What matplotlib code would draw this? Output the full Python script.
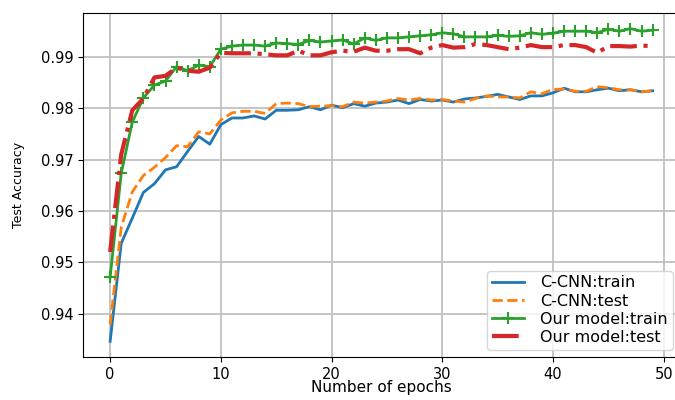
import matplotlib
matplotlib.use("Agg")
import matplotlib.pyplot as plt
import numpy as np

epochs = list(range(50))

ccnn_train = [0.9346, 0.9537, 0.9586, 0.9636, 0.9653, 0.9680, 0.9686, 0.9716, 0.9745, 0.9730,
              0.9768, 0.9781, 0.9781, 0.9785, 0.9779, 0.9796, 0.9796, 0.9797, 0.9803, 0.9797,
              0.9806, 0.9801, 0.9809, 0.9804, 0.9810, 0.9812, 0.9816, 0.9809, 0.9817, 0.9814,
              0.9816, 0.9812, 0.9818, 0.9820, 0.9823, 0.9827, 0.9822, 0.9817, 0.9824, 0.9824,
              0.9830, 0.9839, 0.9832, 0.9832, 0.9836, 0.9839, 0.9834, 0.9836, 0.9832, 0.9834]

ccnn_test = [0.9379, 0.9568, 0.9637, 0.9669, 0.9685, 0.9704, 0.9727, 0.9725, 0.9754, 0.9750,
             0.9777, 0.9791, 0.9794, 0.9794, 0.9790, 0.9809, 0.9810, 0.9809, 0.9803, 0.9804,
             0.9805, 0.9803, 0.9812, 0.9810, 0.9812, 0.9814, 0.9819, 0.9816, 0.9819, 0.9816,
             0.9817, 0.9814, 0.9812, 0.9819, 0.9824, 0.9822, 0.9822, 0.9820, 0.9832, 0.9828,
             0.9837, 0.9837, 0.9833, 0.9833, 0.9842, 0.9840, 0.9836, 0.9836, 0.9832, 0.9834]

our_train = [0.9471, 0.9673, 0.9773, 0.9820, 0.9845, 0.9853, 0.9881, 0.9873, 0.9884, 0.9881,
             0.9915, 0.9921, 0.9923, 0.9923, 0.9921, 0.9927, 0.9926, 0.9924, 0.9932, 0.9929,
             0.9931, 0.9933, 0.9925, 0.9937, 0.9932, 0.9937, 0.9937, 0.9939, 0.9941, 0.9943,
             0.9947, 0.9945, 0.9939, 0.9939, 0.9939, 0.9942, 0.9940, 0.9941, 0.9947, 0.9944,
             0.9946, 0.9950, 0.9950, 0.9950, 0.9947, 0.9954, 0.9950, 0.9955, 0.9950, 0.9952]

our_test = [0.9520, 0.9710, 0.9796, 0.9819, 0.9860, 0.9863, 0.9879, 0.9873, 0.9871, 0.9879,
            0.9908, 0.9907, 0.9907, 0.9907, 0.9905, 0.9903, 0.9903, 0.9912, 0.9903, 0.9903,
            0.9909, 0.9912, 0.9910, 0.9918, 0.9912, 0.9912, 0.9915, 0.9915, 0.9907, 0.9918,
            0.9923, 0.9918, 0.9919, 0.9925, 0.9923, 0.9919, 0.9915, 0.9918, 0.9923, 0.9919,
            0.9919, 0.9923, 0.9923, 0.9919, 0.9908, 0.9921, 0.9921, 0.9920, 0.9922, 0.9921]

labels = ["C-CNN:train", "C-CNN:test", "Our model:train", "Our model:test"]

fig = plt.figure(figsize=(6.75, 4.0), dpi=100)
ax = fig.add_axes([0.123, 0.1075, 0.884, 0.86])

ax.plot(epochs, ccnn_train, color="#1f77b4", lw=2, label=labels[0])
ax.plot(epochs, ccnn_test, color="#ff7f0e", lw=2, ls="--", label=labels[1])
ax.plot(epochs, our_train, color="#2ca02c", lw=2, marker="+", ms=8.5, mew=1.5, label=labels[2])
ax.plot(epochs, our_test, color="#d62728", lw=3, ls="-.", label=labels[3])

ax.set_yticks([0.94, 0.95, 0.96, 0.97, 0.98, 0.99])
ax.set_xticks([0, 10, 20, 30, 40, 50])
ax.grid(True, color="#c0c0c0", lw=1.3)
ax.tick_params(labelsize=10.5)
ax.set_xlabel("Number of epochs", fontsize=11)
ax.set_ylabel("Test Accuracy", fontsize=9)
ax.yaxis.set_label_coords(-0.097, 0.5)
ax.xaxis.set_label_coords(0.5, -0.068)
ax.legend(loc="lower right", fontsize=11.5, labelspacing=0.2, borderpad=0.3,
          handletextpad=1.0, bbox_to_anchor=(1.0, 0.0), borderaxespad=0.45)

fig.savefig("out.png", dpi=100)
